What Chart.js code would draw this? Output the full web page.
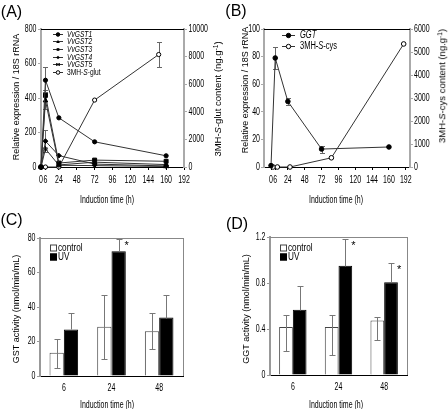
<!DOCTYPE html>
<html>
<head>
<meta charset="utf-8">
<script src="https://cdn.jsdelivr.net/npm/chart.js@4.4.1/dist/chart.umd.min.js"></script>
<style>
  body { margin: 0; background: #fff; }
  #fig { position: relative; width: 448px; height: 409px; overflow: hidden;
         font-family: "Liberation Sans", Arial, sans-serif; color: #000; }
  #fig canvas { position: absolute; }
  .t { position: absolute; white-space: nowrap; line-height: 1; }
  .panel { font-size: 16px; transform: translate(-50%, -50%); }
  .yt { font-size: 9px; transform: translate(-50%, -50%) rotate(-90deg); }
  .yt2 { font-size: 9.5px; transform: translate(-50%, -50%) rotate(-90deg); }
  .xt { font-size: 10px; transform: translate(-50%, -50%) scaleX(0.7); }
  sup { font-size: 0.7em; vertical-align: 0.45em; line-height: 0; }
</style>
</head>
<body>
<div id="fig">
  <canvas id="chartA" width="224" height="205" style="left:0;top:0"></canvas>
  <canvas id="chartB" width="224" height="205" style="left:224px;top:0"></canvas>
  <canvas id="chartC" width="224" height="204" style="left:0;top:205px"></canvas>
  <canvas id="chartD" width="224" height="204" style="left:224px;top:205px"></canvas>

  <div class="t panel" style="left:11.5px;top:11.5px">(A)</div>
  <div class="t panel" style="left:236px;top:11px">(B)</div>
  <div class="t panel" style="left:11.5px;top:220px">(C)</div>
  <div class="t panel" style="left:237px;top:223.5px">(D)</div>

  <div class="t yt" style="left:16px;top:97px">Relative expression / 18S rRNA</div>
  <div class="t yt2" style="left:217.5px;top:99px">3MH-<i>S</i>-glut content (ng.g<sup>-1</sup>)</div>
  <div class="t xt" style="left:107px;top:200px">Induction time (h)</div>

  <div class="t yt" style="left:244.5px;top:90px">Relative expression / 18S rRNA</div>
  <div class="t yt2" style="left:442px;top:86px">3MH-<i>S</i>-cys content (ng.g<sup>-1</sup>)</div>
  <div class="t xt" style="left:335.5px;top:200px">Induction time (h)</div>

  <div class="t yt" style="left:16px;top:308.5px">GST activity (nmol/min/mL)</div>
  <div class="t xt" style="left:107px;top:404.5px">Induction time (h)</div>

  <div class="t yt" style="left:245.5px;top:308.5px">GGT activity (nmol/min/mL)</div>
  <div class="t xt" style="left:335.5px;top:404.5px">Induction time (h)</div>
</div>

<script>
// time axis of the two line panels (the 168 h tick is printed as "160")
const timeTicks = [0, 6, 24, 48, 72, 96, 120, 144, 168, 192];
const timeTickLabels = ['0', '6', '24', '48', '72', '96', '120', '144', '160', '192'];

// (A) GST expression + 3MH-S-glut
const gstNames = ['VvGST1', 'VvGST2', 'VvGST3', 'VvGST4', 'VvGST5'];
const gstTimes = [0, 6, 24, 72, 168];
const vvGST1 = [0, 503, 285, 146, 65];
const vvGST2 = [0, 385, 12, 28, 14];
const vvGST3 = [0, 415, 23, 40, 33];
const vvGST4 = [0, 150, 66, 17, 6];
const vvGST5 = [0, 105, 10, 8, 3];
const vvGST1Err = [0, 75, 0, 0, 0];
const vvGST2Err = [0, 50, 0, 0, 0];
const vvGST3Err = [0, 30, 0, 0, 0];
const vvGST4Err = [0, 65, 0, 0, 0];
const vvGST5Err = [0, 0, 0, 0, 0];
const glutName = '3MH-*S*-glut';
const glutTimes = [0, 6, 24, 72, 158];
const glutContent = [0, 0, 0, 4850, 8150];
const glutErr = [0, 0, 0, 0, 900];
const exprTicksA = [0, 200, 400, 600, 800];
const glutTicks = [0, 2000, 4000, 6000, 8000, 10000];

// (B) GGT expression + 3MH-S-cys
const ggtName = '*GGT*';
const ggtTimes = [0, 6, 24, 72, 168];
const ggtExpr = [1, 79, 47.5, 13, 14.5];
const ggtExprErr = [0, 8, 2.5, 2.5, 0];
const cysName = '3MH-*S*-cys';
const cysTimes = [3, 9, 27, 86, 189];
const cysContent = [0, 0, 0, 400, 5350];
const exprTicksB = [0, 20, 40, 60, 80, 100];
const cysTicks = [0, 1000, 2000, 3000, 4000, 5000, 6000];

// (C) GST activity, (D) GGT activity
const activityTimes = ['6', '24', '48'];
const gstControl = [13.5, 28.5, 26];
const gstControlErrUp = [7.7, 18.7, 10.6];
const gstControlErrDown = [8.7, 18.5, 10.6];
const gstUV = [27, 72.3, 33.9];
const gstUVErr = [9.8, 7.3, 12.9];
const gstSignif = [false, true, false];
const gstActTicks = [0, 20, 40, 60, 80];

const ggtControl = [0.417, 0.417, 0.475];
const ggtControlErrUp = [0.107, 0.107, 0.029];
const ggtControlErrDown = [0.204, 0.244, 0.173];
const ggtUV = [0.567, 0.95, 0.806];
const ggtUVErr = [0.21, 0.235, 0.164];
const ggtSignif = [false, true, true];
const ggtActTicks = [0, 0.4, 0.8, 1.2];

const FONT = '"Liberation Sans", Arial, sans-serif';

// draw text narrowed horizontally, like the original figure
function squashed(ctx, text, x, y, size, sq, align, base, italic) {
  ctx.save();
  ctx.font = (italic ? 'italic ' : '') + size + 'px ' + FONT;
  ctx.textAlign = align;
  ctx.textBaseline = base;
  ctx.fillStyle = '#000';
  ctx.translate(x, y);
  ctx.scale(sq, 1);
  ctx.fillText(text, 0, 0);
  ctx.restore();
}

// text with *italic* parts
function richText(ctx, text, x, y, size, sq) {
  const parts = text.split('*');
  parts.forEach((p, i) => {
    if (!p) return;
    const it = i % 2 === 1;
    ctx.font = (it ? 'italic ' : '') + size + 'px ' + FONT;
    const w = ctx.measureText(p).width * sq;
    squashed(ctx, p, x, y, size, sq, 'left', 'middle', it);
    x += w;
  });
}

// small marker for the legend rows
function marker(ctx, style, r, x, y, fill) {
  ctx.save();
  ctx.fillStyle = fill;
  ctx.strokeStyle = '#000';
  ctx.lineWidth = 1;
  ctx.beginPath();
  if (style === 'triangle') {
    ctx.moveTo(x, y - r); ctx.lineTo(x + r, y + r * 0.8); ctx.lineTo(x - r, y + r * 0.8); ctx.closePath();
    ctx.fill();
  } else if (style === 'rect') {
    ctx.rect(x - r * 0.75, y - r * 0.75, r * 1.5, r * 1.5);
    ctx.fill();
  } else if (style === 'rectRot') {
    ctx.moveTo(x, y - r); ctx.lineTo(x + r, y); ctx.lineTo(x, y + r); ctx.lineTo(x - r, y); ctx.closePath();
    ctx.fill();
  } else if (style === 'star') {
    ctx.moveTo(x - r * 0.7, y - r * 0.7); ctx.lineTo(x + r * 0.7, y + r * 0.7);
    ctx.moveTo(x + r * 0.7, y - r * 0.7); ctx.lineTo(x - r * 0.7, y + r * 0.7);
    ctx.moveTo(x - r * 0.7, y - r * 0.8); ctx.lineTo(x - r * 0.7, y + r * 0.8);
    ctx.moveTo(x + r * 0.7, y - r * 0.8); ctx.lineTo(x + r * 0.7, y + r * 0.8);
    ctx.stroke();
  } else {
    ctx.arc(x, y, r, 0, Math.PI * 2);
    ctx.fill();
    ctx.stroke();
  }
  ctx.restore();
}

const tickText = {
  id: 'tickText',
  afterDraw(chart, args, o) {
    const ctx = chart.ctx;
    Object.values(chart.scales).forEach(s => {
      s.ticks.forEach((t, i) => {
        const label = t.label;
        if (label === undefined || label === null || label === '') return;
        if (s.isHorizontal()) {
          squashed(ctx, label, s.getPixelForTick(i), s.top + o.xGap, o.size, o.squash, 'center', 'middle');
        } else if (s.position === 'left') {
          squashed(ctx, label, s.right - o.yGap, s.getPixelForTick(i), o.size, o.squash, 'right', 'middle');
        } else {
          squashed(ctx, label, s.left + o.yGap, s.getPixelForTick(i), o.size, o.squash, 'left', 'middle');
        }
      });
    });
  }
};

const frame = {
  id: 'frame',
  afterDraw(chart, args, o) {
    const ctx = chart.ctx, a = chart.chartArea;
    ctx.save();
    ctx.lineWidth = 1;
    if (o.top) {
      ctx.strokeStyle = o.top;
      ctx.beginPath();
      ctx.moveTo(a.left, Math.round(a.top) + 0.5);
      ctx.lineTo(a.right, Math.round(a.top) + 0.5);
      ctx.stroke();
    }
    if (o.right) {
      ctx.strokeStyle = o.right;
      ctx.beginPath();
      ctx.moveTo(Math.round(a.right) + 0.5, a.top);
      ctx.lineTo(Math.round(a.right) + 0.5, a.bottom);
      ctx.stroke();
    }
    ctx.restore();
  }
};

function drawErrors(chart) {
  const ctx = chart.ctx;
  chart.data.datasets.forEach((ds, di) => {
    if (!ds.errUp) return;
    const meta = chart.getDatasetMeta(di);
    const ys = chart.scales[meta.yAxisID];
    ctx.save();
    ctx.strokeStyle = ds.errColor || '#666';
    ctx.lineWidth = 1;
    meta.data.forEach((el, i) => {
      const up = ds.errUp[i] || 0;
      const down = ds.errDown ? (ds.errDown[i] || 0) : (ds.errLower === false ? 0 : up);
      if (!up && !down) return;
      const raw = ds.data[i];
      const v = typeof raw === 'object' ? raw.y : raw;
      const x = Math.round(el.x) + 0.5;
      const yt = Math.round(ys.getPixelForValue(v + up)) + 0.5;
      const yb = Math.round(ys.getPixelForValue(v - down)) + 0.5;
      const c = ds.errCap || 2.5;
      ctx.beginPath();
      ctx.moveTo(x, yt); ctx.lineTo(x, yb);
      if (up) { ctx.moveTo(x - c, yt); ctx.lineTo(x + c, yt); }
      if (down) { ctx.moveTo(x - c, yb); ctx.lineTo(x + c, yb); }
      ctx.stroke();
      if (ds.signif && ds.signif[i]) {
        ctx.save();
        ctx.font = '11px ' + FONT;
        ctx.fillStyle = '#000';
        ctx.textAlign = 'center';
        ctx.textBaseline = 'middle';
        ctx.fillText('*', el.x + 8, yt + 6);
        ctx.restore();
      }
    });
    ctx.restore();
  });
}

const errorBars = {
  id: 'errorBars',
  beforeDatasetsDraw(chart) { if (chart.config.type === 'line') drawErrors(chart); },
  afterDatasetsDraw(chart) { if (chart.config.type === 'bar') drawErrors(chart); }
};

const panelLegend = {
  id: 'panelLegend',
  afterDraw(chart, args, o) {
    if (!o || o.x === undefined) return;
    const ctx = chart.ctx;
    ctx.save();
    chart.data.datasets.forEach((ds, i) => {
      const y = Math.round(o.y + i * o.rowH);
      if (chart.config.type === 'bar') {
        ctx.fillStyle = ds.backgroundColor;
        ctx.strokeStyle = ds.borderColor;
        ctx.lineWidth = 1;
        ctx.fillRect(o.x, y - o.box / 2, o.box, o.box);
        ctx.strokeRect(o.x + 0.5, y - o.box / 2 + 0.5, o.box - 1, o.box - 1);
        richText(ctx, ds.legendText, o.x + o.box + o.gap, y, o.size, o.squash);
      } else {
        ctx.strokeStyle = ds.borderColor;
        ctx.lineWidth = 1;
        ctx.beginPath();
        ctx.moveTo(o.x, y + 0.5);
        ctx.lineTo(o.x + o.lineLen, y + 0.5);
        ctx.stroke();
        marker(ctx, ds.pointStyle, o.marker, o.x + o.lineLen / 2, y + 0.5, ds.pointBackgroundColor);
        richText(ctx, ds.legendText, o.x + o.lineLen + o.gap, y, o.size, o.squash);
      }
    });
    ctx.restore();
  }
};

function fixedTicks(values) {
  return s => { s.ticks = values.map(v => ({ value: v })); };
}

function yAxis(pos, min, max, ticks, width, color) {
  return {
    type: 'linear', position: pos, min: min, max: max,
    afterBuildTicks: fixedTicks(ticks),
    afterFit: s => { s.width = width; },
    ticks: { display: false, callback: v => String(v) },
    grid: { drawOnChartArea: false, drawTicks: true, tickLength: 3, color: color },
    border: { color: color, width: 2 }
  };
}

function timeAxis(min, max) {
  return {
    type: 'linear', min: min, max: max,
    afterBuildTicks: fixedTicks(timeTicks),
    afterFit: s => { s.height = 38; },
    ticks: { display: false, callback: v => timeTickLabels[timeTicks.indexOf(v)] },
    grid: { drawOnChartArea: false, drawTicks: true, tickLength: 3, color: '#000' },
    border: { color: '#000', width: 1 }
  };
}

function series(name, xs, ys, errs, style, radius, fill, axis) {
  return {
    label: name.replace(/\*/g, ''),
    legendText: name,
    data: xs.map((x, i) => ({ x: x, y: ys[i] })),
    errUp: errs,
    yAxisID: axis,
    borderColor: '#333',
    borderWidth: 1,
    pointStyle: style,
    pointRadius: radius,
    pointBackgroundColor: fill,
    pointBorderColor: '#000',
    pointBorderWidth: 1,
    tension: 0,
    clip: false
  };
}

const baseOpts = {
  responsive: false,
  animation: false,
  devicePixelRatio: 1,
  events: []
};

// (A)
new Chart(document.getElementById('chartA'), {
  type: 'line',
  data: {
    datasets: [
      series('*' + gstNames[0] + '*', gstTimes, vvGST1, vvGST1Err, 'circle', 2.1, '#000', 'y'),
      series('*' + gstNames[1] + '*', gstTimes, vvGST2, vvGST2Err, 'triangle', 2.6, '#000', 'y'),
      series('*' + gstNames[2] + '*', gstTimes, vvGST3, vvGST3Err, 'rect', 2.8, '#000', 'y'),
      series('*' + gstNames[3] + '*', gstTimes, vvGST4, vvGST4Err, 'rectRot', 2.4, '#000', 'y'),
      series('*' + gstNames[4] + '*', gstTimes, vvGST5, vvGST5Err, 'star', 2.6, '#000', 'y'),
      series(glutName, glutTimes, glutContent, glutErr, 'circle', 2.1, '#fff', 'y2')
    ]
  },
  options: Object.assign({}, baseOpts, {
    layout: { padding: { top: 29, right: 0, left: 0, bottom: 0 } },
    scales: {
      x: timeAxis(0, 192),
      y: yAxis('left', 0, 800, exprTicksA, 41, '#aaa'),
      y2: yAxis('right', 0, 10000, glutTicks, 40, '#aaa')
    },
    plugins: {
      legend: { display: false },
      tooltip: { enabled: false },
      tickText: { size: 10, squash: 0.7, xGap: 13, yGap: 4.5 },
      frame: { top: '#000' },
      panelLegend: { x: 53, y: 33.5, rowH: 7.7, lineLen: 10, gap: 4, size: 9.5, squash: 0.7, marker: 1.8 }
    }
  }),
  plugins: [errorBars, frame, tickText, panelLegend]
});

// (B)
new Chart(document.getElementById('chartB'), {
  type: 'line',
  data: {
    datasets: [
      series(ggtName, ggtTimes, ggtExpr, ggtExprErr, 'circle', 2.3, '#000', 'y'),
      series(cysName, cysTimes, cysContent, [0, 0, 0, 0, 0], 'circle', 2.3, '#fff', 'y2')
    ]
  },
  options: Object.assign({}, baseOpts, {
    layout: { padding: { top: 29, right: 0, left: 0, bottom: 0 } },
    scales: {
      x: timeAxis(-10, 198),
      y: yAxis('left', 0, 100, exprTicksB, 40, '#aaa'),
      y2: yAxis('right', 0, 6000, cysTicks, 38, '#aaa')
    },
    plugins: {
      legend: { display: false },
      tooltip: { enabled: false },
      tickText: { size: 10, squash: 0.7, xGap: 13, yGap: 4 },
      frame: { top: '#000' },
      panelLegend: { x: 58, y: 34.5, rowH: 11.4, lineLen: 13, gap: 5, size: 10, squash: 0.75, marker: 2.2 }
    }
  }),
  plugins: [errorBars, frame, tickText, panelLegend]
});

function barChart(id, ctrl, ctrlUp, ctrlDown, uv, uvErr, signif, yMax, yTicks, leftW, top, bottom) {
  return new Chart(document.getElementById(id), {
    type: 'bar',
    data: {
      labels: activityTimes,
      datasets: [
        {
          label: 'control', legendText: 'control', data: ctrl,
          errUp: ctrlUp, errDown: ctrlDown, errColor: '#777', errCap: 3,
          backgroundColor: '#fff', borderColor: '#444', borderWidth: 1,
          barPercentage: 1, categoryPercentage: 0.6
        },
        {
          label: 'UV', legendText: 'UV', data: uv,
          errUp: uvErr, errLower: false, errColor: '#777', errCap: 3, signif: signif,
          backgroundColor: '#000', borderColor: '#000', borderWidth: 1,
          barPercentage: 1, categoryPercentage: 0.6
        }
      ]
    },
    options: Object.assign({}, baseOpts, {
      layout: { padding: { top: top, right: 41, left: 0, bottom: 0 } },
      scales: {
        x: {
          afterFit: s => { s.height = 204 - bottom; },
          ticks: { display: false },
          grid: { display: false },
          border: { color: '#000', width: 1 }
        },
        y: yAxis('left', 0, yMax, yTicks, leftW, '#999')
      },
      plugins: {
        legend: { display: false },
        tooltip: { enabled: false },
        tickText: { size: 10, squash: 0.7, xGap: 12, yGap: 4.5 },
        frame: { top: '#888', right: '#888' },
        panelLegend: { x: leftW + 10, y: 42.5, rowH: 9.4, box: 7, gap: 1, size: 10, squash: 0.82 }
      }
    }),
    plugins: [errorBars, frame, tickText, panelLegend]
  });
}

barChart('chartC', gstControl, gstControlErrUp, gstControlErrDown, gstUV, gstUVErr, gstSignif, 80, gstActTicks, 40, 33, 171);
barChart('chartD', ggtControl, ggtControlErrUp, ggtControlErrDown, ggtUV, ggtUVErr, ggtSignif, 1.2, ggtActTicks, 46, 32, 170);
</script>
</body>
</html>
